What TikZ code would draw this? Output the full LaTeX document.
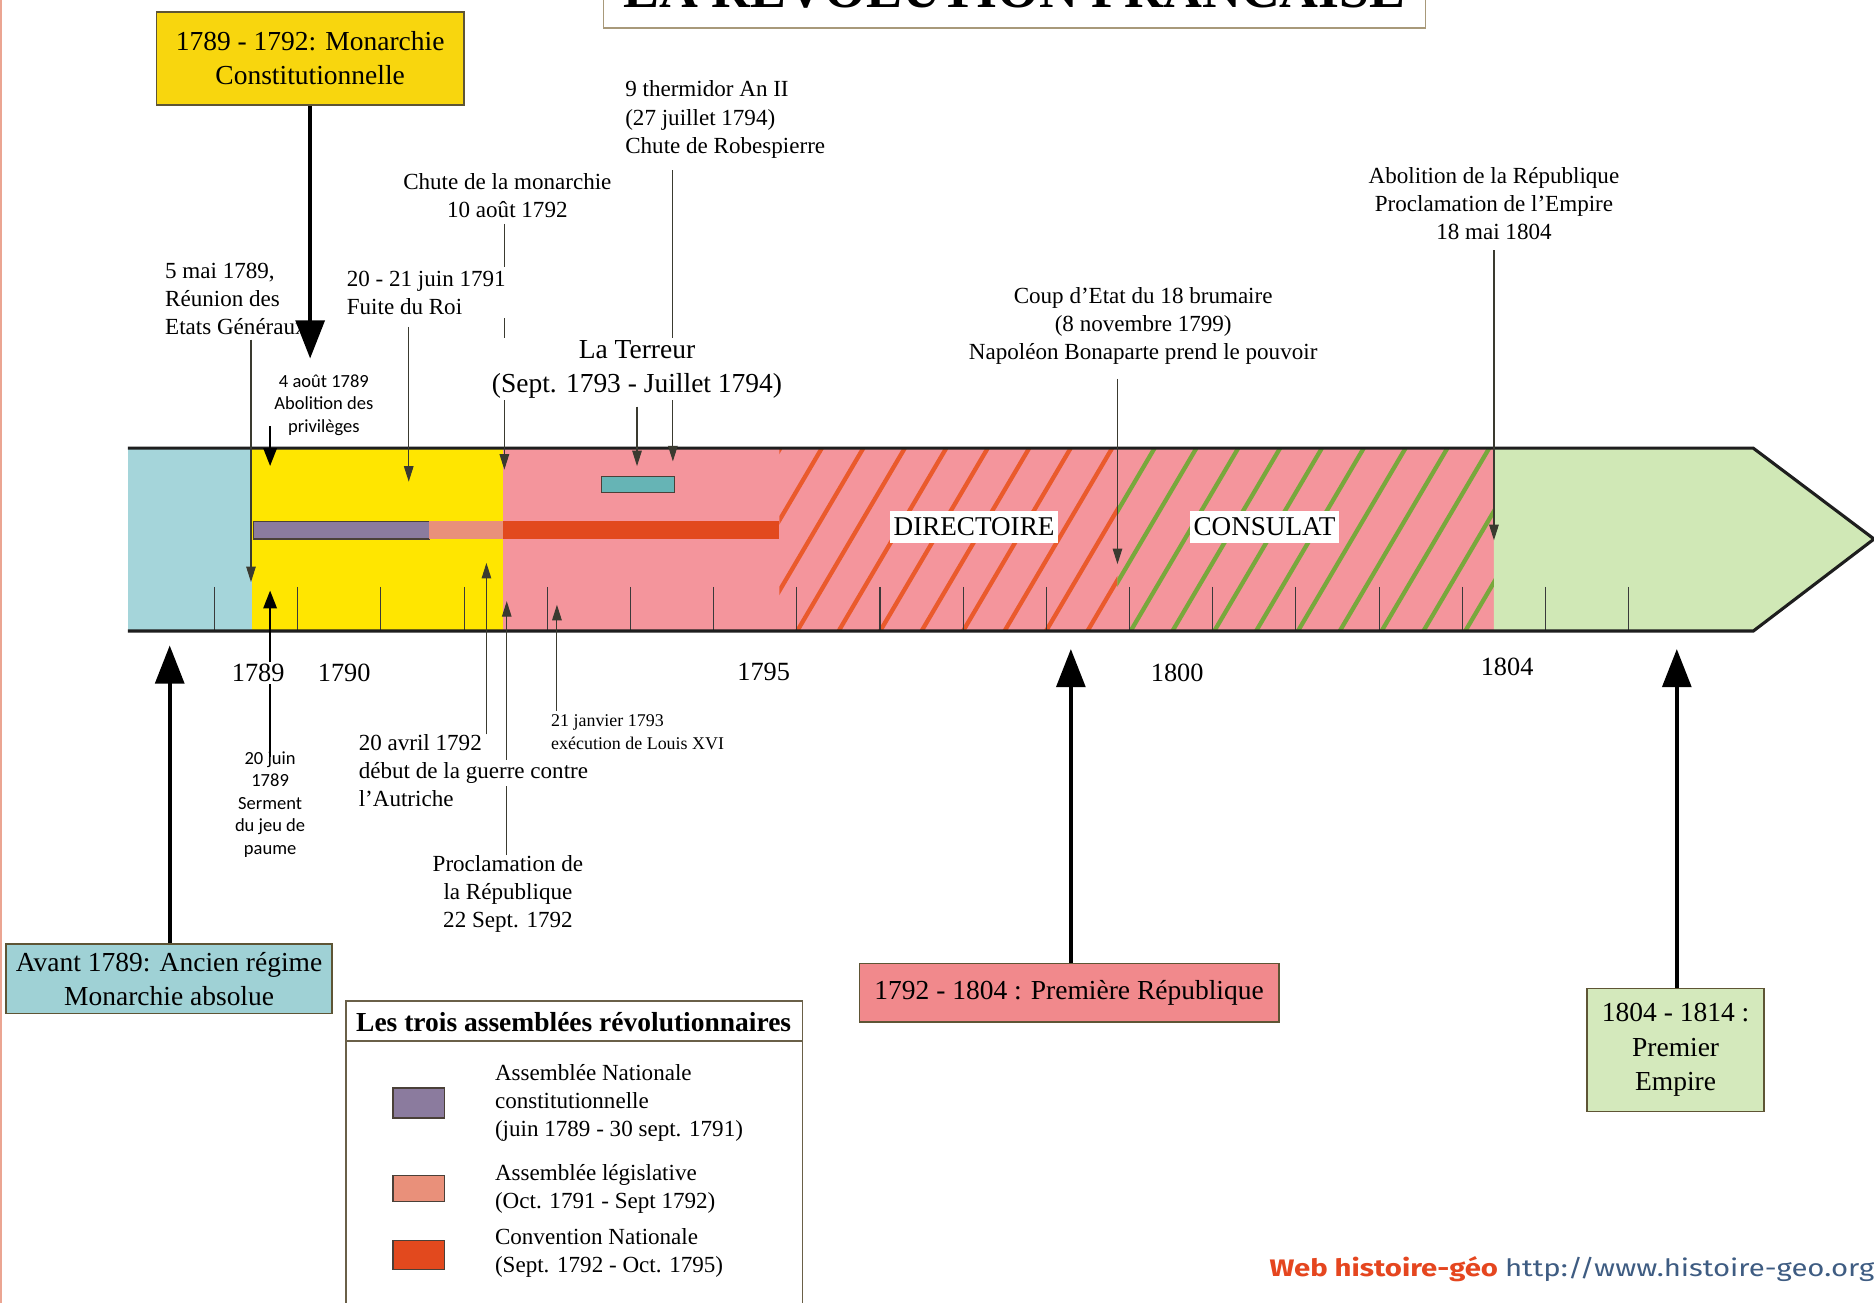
\documentclass[tikz,border=0pt]{standalone}
\usepackage{fontspec}
\setmainfont{Liberation Serif}
\newfontfamily\calib{Carlito}
\newfontfamily\firasans{Fira Sans}
\usepackage{graphicx}
\usetikzlibrary{arrows.meta}
\pgfdeclarelayer{band}
\pgfdeclarelayer{conn}
\pgfdeclarelayer{fg}
\pgfsetlayers{band,conn,main,fg}
\definecolor{bandblue}{HTML}{A5D5DA}
\definecolor{bandyellow}{HTML}{FFE600}
\definecolor{bandpink}{HTML}{F4959C}
\definecolor{bandgreen}{HTML}{D0E8B6}
\definecolor{stripered}{HTML}{EA5A2C}
\definecolor{stripegreen}{HTML}{78A83C}
\definecolor{barpurple}{HTML}{8B7B9E}
\definecolor{barsalmon}{HTML}{E9907A}
\definecolor{barred}{HTML}{E2491E}
\definecolor{barteal}{HTML}{66B4B5}
\definecolor{baredge}{HTML}{4A4038}
\definecolor{mcyellow}{HTML}{F8D60E}
\definecolor{ancblue}{HTML}{9FD1D5}
\definecolor{reppink}{HTML}{F1898C}
\definecolor{empgreen}{HTML}{D4E9BC}
\definecolor{boxedge}{HTML}{5E5535}
\definecolor{titleedge}{HTML}{A8997A}
\definecolor{leadcol}{HTML}{3A3A30}
\definecolor{tickcol}{HTML}{3A3A3A}
\definecolor{bandedge}{HTML}{1E1E1E}
\definecolor{legendedge}{HTML}{6A6048}
\definecolor{footred}{HTML}{E5461F}
\definecolor{footblue}{HTML}{3E5C82}
\definecolor{leftedgecol}{HTML}{EBA592}
\newcommand\wbg[1]{{\setlength{\fboxsep}{2pt}\hspace*{-2pt}\colorbox{white}{#1}\hspace*{-2pt}}}
\begin{document}
\begin{tikzpicture}[x=1pt,y=-1pt,
  lbl/.style={font=\fontsize{19.3}{23.5}\selectfont, inner sep=0pt, align=center},
  lbll/.style={font=\fontsize{19.3}{23.5}\selectfont, inner sep=0pt, align=left, anchor=west},
  biglbl/.style={font=\fontsize{23}{28}\selectfont, inner sep=0pt, align=center},
  yearlbl/.style={font=\fontsize{22}{26}\selectfont, inner sep=2pt, fill=white},
  smlbl/.style={font=\calib\fontsize{15.5}{18.8}\selectfont, inner sep=0pt, align=center},
  tinylbl/.style={font=\fontsize{15}{19}\selectfont, inner sep=0pt, align=left, anchor=west},
  erabox/.style={draw=boxedge, line width=1.3pt, inner sep=0pt, align=center, font=\fontsize{23}{28.5}\selectfont},
  leader/.style={draw=leadcol, line width=0.9pt, -{Triangle[width=8pt,length=13pt]}},
  thickarr/.style={draw=black, line width=2.2pt, -{Triangle[width=11pt,length=15pt]}},
  bigarr/.style={draw=black, line width=3.6pt, -{Triangle[width=24pt,length=32pt]}},
  yeartick/.style={draw=tickcol, line width=0.9pt},
  barbox/.style={draw=baredge, line width=0.9pt},
  swatch/.style={draw=baredge, line width=1.2pt, inner sep=0pt},
  era/.style={fill=white, inner xsep=3pt, inner ysep=6pt, font=\fontsize{22.7}{26}\selectfont},
  stripe/.style={line width=3.6pt},
]
\useasboundingbox (0,0) rectangle (1568,1090);

% ---------------- band layer ----------------
\begin{pgfonlayer}{band}
\fill[white] (0,0) rectangle (1568,1090);
\draw[leftedgecol, line width=1.5pt] (1,0) -- (1,1090);
\fill[bandblue] (107,375) rectangle (211,528);
\fill[bandyellow] (211,375) rectangle (421,528);
\fill[bandpink] (421,375) rectangle (1250,528);
\fill[bandgreen] (1250,375) -- (1467,375) -- (1568,451) -- (1467,528) -- (1250,528) -- cycle;
\begin{scope}
  \clip (652,375) rectangle (935,528);
  \foreach \k in {-4,...,8} \draw[stripe, stripered] ({667+34.7*\k},528) -- ++(90,-153);
\end{scope}
\begin{scope}
  \clip (935,375) rectangle (1250,528);
  \foreach \k in {-4,...,9} \draw[stripe, stripegreen] ({946+35*\k},528) -- ++(90,-153);
\end{scope}
\foreach \i in {0,...,17} \draw[yeartick] ({179.5+69.6*\i},491) -- ++(0,37);
\draw[barbox, fill=barpurple] (212,436) rectangle (359,451);
\fill[barsalmon] (359,436) rectangle (421,451);
\fill[barred] (421,436) rectangle (652,451);
\draw[barbox, fill=barteal] (503,399) rectangle (564,412);
\draw[line width=2.6pt, bandedge, line join=miter] (107,375) -- (1467,375) -- (1568,451) -- (1467,528) -- (107,528);
\end{pgfonlayer}

% ---------------- title ----------------
\node[draw=titleedge, line width=1pt, fill=white, minimum width=688pt, minimum height=80pt, anchor=south] (titlebox) at (849,24) {};
\node[font=\bfseries\fontsize{45}{50}\selectfont, inner sep=0pt, anchor=base] (title) at (849,6) {LA REVOLUTION FRANCAISE};

% ---------------- era boxes ----------------
\node[erabox, fill=mcyellow, minimum width=257pt, minimum height=78pt] (mc) at (259.5,49) {1789 - 1792: Monarchie\\Constitutionnelle};
\node[erabox, fill=ancblue, minimum width=273pt, minimum height=58pt] (anc) at (141.5,819) {Avant 1789: Ancien régime\\Monarchie absolue};
\node[erabox, fill=reppink, minimum width=351pt, minimum height=49pt] (rep) at (894.5,830.5) {1792 - 1804 : Première République};
\node[erabox, fill=empgreen, minimum width=148pt, minimum height=103pt, font=\fontsize{23}{29}\selectfont] (emp) at (1402,878.5) {1804 - 1814 :\\Premier\\Empire};

\node[era] (dir) at (815,441) {DIRECTOIRE};
\node[era] (cons) at (1058,441) {CONSULAT};

% ---------------- labels above ----------------
\node[lbll] (therm) at (523,100) {9 thermidor An II\\(27 juillet 1794)\\Chute de Robespierre};
\node[lbl] (chute) at (424.5,163.5) {Chute de la monarchie\\10 août 1792};
\node[lbll] (mai) at (138,250) {5 mai 1789,\\Réunion des\\Etats Généraux};
\node[lbll, fill=white, inner sep=3pt] (fuite) at (287,245) {20 - 21 juin 1791\\Fuite du Roi};
\node[smlbl] (aout) at (271,339) {4 août 1789\\Abolition des\\privilèges};
\node[biglbl, fill=white, inner sep=2pt] (terreur) at (533,309) {La Terreur\\(Sept. 1793 - Juillet 1794)};
\node[lbl] (abol) at (1250,170) {Abolition de la République\\Proclamation de l’Empire\\18 mai 1804};
\node[lbl] (coup) at (956.5,272.5) {Coup d’Etat du 18 brumaire\\(8 novembre 1799)\\Napoléon Bonaparte prend le pouvoir};

% ---------------- years ----------------
\node[yearlbl] (y1789) at (216,563) {1789};
\node[yearlbl] (y1790) at (288,563) {1790};
\node[yearlbl] (y1795) at (639,562) {1795};
\node[yearlbl] (y1800) at (985,563) {1800};
\node[yearlbl] (y1804) at (1261,558) {1804};

% ---------------- labels below ----------------
\node[smlbl] (juin) at (226,673) {20 juin\\1789\\Serment\\du jeu de\\paume};
\node[lbll] (avril) at (300,645) {20 avril 1792\\\wbg{début de la guerre contre}\\l’Autriche};
\node[lbl] (procl) at (425,748) {Proclamation de\\la République\\22 Sept. 1792};
\node[tinylbl] (janv) at (461,612.5) {21 janvier 1793\\exécution de Louis XVI};

% ---------------- legend ----------------
\node[draw=legendedge, line width=1.2pt, minimum width=382pt, minimum height=263pt, anchor=north west, inner sep=0pt] (legend) at (289,837) {};
\node[font=\bfseries\fontsize{23}{28}\selectfont, inner sep=0pt] (leghead) at (480,855) {Les trois assemblées révolutionnaires};
\coordinate (hsep) at (0,871);
\draw[legendedge, line width=1.2pt] (legend.west |- hsep) -- (legend.east |- hsep);
\node[swatch, fill=barpurple, minimum width=43pt, minimum height=25pt] (sw1) at (350.5,923) {};
\node[swatch, fill=barsalmon, minimum width=43pt, minimum height=22pt] (sw2) at (350.5,994.5) {};
\node[swatch, fill=barred, minimum width=43pt, minimum height=24pt] (sw3) at (350.5,1050) {};
\node[lbll] (lg1) at (414,923) {Assemblée Nationale\\constitutionnelle\\(juin 1789 - 30 sept. 1791)};
\node[lbll] (lg2) at (414,994.5) {Assemblée législative\\(Oct. 1791 - Sept 1792)};
\node[lbll] (lg3) at (414,1048.5) {Convention Nationale\\(Sept. 1792 - Oct. 1795)};

% ---------------- footer ----------------
\node[inner sep=0pt, anchor=base west] (footer) at (1062,1068) {\resizebox{506pt}{\height}{\firasans\fontsize{20}{24}\selectfont\color{footred}\bfseries Web histoire-géo \color{footblue}\mdseries http://www.histoire-geo.org}};

% ---------------- targets ----------------
\coordinate (t-mc) at (259.5,300);
\coordinate (t-therm) at (563,386);
\coordinate (t-chute) at (422,393);
\coordinate (t-mai) at (210,487);
\coordinate (t-fuite) at (342,403);
\coordinate (t-aout) at (226,390);
\coordinate (t-terreur) at (533,390);
\coordinate (t-abol) at (1250,452);
\coordinate (t-coup) at (935,472);
\coordinate (t-juin) at (226,494);
\coordinate (t-avril) at (407,471);
\coordinate (t-procl) at (424,503);
\coordinate (t-janv) at (466,506);
\coordinate (t-anc) at (142,540);
\coordinate (t-rep) at (896,543);
\coordinate (t-emp) at (1403,543);

% ---------------- connectors ----------------
\begin{pgfonlayer}{conn}
\draw[leader, shorten <=10pt] (t-therm |- therm.south) -- (t-therm);
\draw[leader, shorten <=5pt] (t-chute |- chute.south) -- (t-chute);
\draw[leader, shorten <=4pt] (t-mai |- mai.south) -- (t-mai);
\draw[leader, shorten <=7pt] (t-fuite |- fuite.south) -- (t-fuite);
\draw[thickarr, shorten <=-8pt] (t-aout |- aout.south) -- (t-aout);
\draw[leader, shorten <=5pt] (t-terreur |- terreur.south) -- (t-terreur);
\draw[leader, shorten <=9pt] (t-abol |- abol.south) -- (t-abol);
\draw[leader, shorten <=12pt] (t-coup |- coup.south) -- (t-coup);
\draw[thickarr, shorten <=-5pt] (t-juin |- juin.north) -- (t-juin);
\draw[leader] (t-avril |- avril.north) -- (t-avril);
\draw[leader] (t-procl |- procl.north) -- (t-procl);
\draw[leader, shorten <=3pt] (t-janv |- janv.north) -- (t-janv);
\end{pgfonlayer}
\begin{pgfonlayer}{fg}
\draw[bigarr] (t-mc |- mc.south) -- (t-mc);
\draw[bigarr] (t-anc |- anc.north) -- (t-anc);
\draw[bigarr] (t-rep |- rep.north) -- (t-rep);
\draw[bigarr] (t-emp |- emp.north) -- (t-emp);
\end{pgfonlayer}
\end{tikzpicture}
\end{document}
